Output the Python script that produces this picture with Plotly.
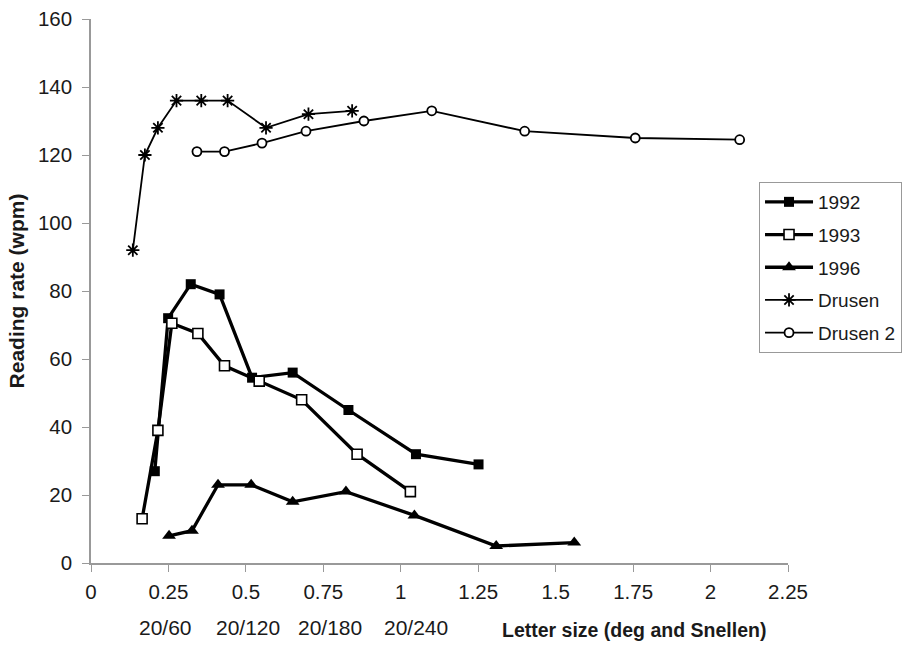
import plotly.graph_objects as go

# ---- data ----
x_1992 = [0.206, 0.249, 0.322, 0.415, 0.52, 0.651, 0.831, 1.049, 1.251]
y_1992 = [27, 72, 82, 79, 54.5, 56, 45, 32, 29]

x_1993 = [0.165, 0.216, 0.261, 0.345, 0.431, 0.543, 0.68, 0.859, 1.031]
y_1993 = [13, 39, 70.5, 67.5, 58, 53.5, 48, 32, 21]

x_1996 = [0.252, 0.326, 0.41, 0.517, 0.651, 0.823, 1.044, 1.308, 1.56]
y_1996 = [8, 9.5, 23, 23, 18, 21, 14, 5, 6]

x_drusen = [0.135, 0.174, 0.216, 0.276, 0.356, 0.441, 0.565, 0.702, 0.843]
y_drusen = [92, 120, 128, 136, 136, 136, 128, 132, 133]

x_drusen2 = [0.342, 0.431, 0.552, 0.694, 0.881, 1.10, 1.40, 1.757, 2.094]
y_drusen2 = [121, 121, 123.5, 127, 130, 133, 127, 125, 124.5]

x_tickvals = [0, 0.25, 0.5, 0.75, 1, 1.25, 1.5, 1.75, 2, 2.25]
x_ticktext = ["0", "0.25", "0.5", "0.75", "1", "1.25", "1.5", "1.75", "2", "2.25"]
y_tickvals = [0, 20, 40, 60, 80, 100, 120, 140, 160]

snellen_pos = [0.241, 0.507, 0.773, 1.05]
snellen_labels = ["20/60", "20/120", "20/180", "20/240"]

FONT = "Liberation Sans, Arial, sans-serif"
TXT = "#1a1a1a"

fig = go.Figure()
fig.add_trace(go.Scatter(x=x_1992, y=y_1992, name="1992", mode="lines+markers",
                         legendgroup="a",
                         line=dict(color="black", width=3.3),
                         marker=dict(symbol="square", size=10, color="black")))
fig.add_trace(go.Scatter(x=x_1993, y=y_1993, name="1993", mode="lines+markers",
                         legendgroup="b",
                         line=dict(color="black", width=3.3),
                         marker=dict(symbol="square", size=10, color="white",
                                     line=dict(color="black", width=1.6))))
fig.add_trace(go.Scatter(x=x_1996, y=y_1996, name="1996", mode="lines+markers",
                         legendgroup="c",
                         line=dict(color="black", width=3.3),
                         marker=dict(symbol="triangle-up", size=12, color="black")))
fig.add_trace(go.Scatter(x=x_drusen, y=y_drusen, name="Drusen", mode="lines+markers",
                         legendgroup="d",
                         line=dict(color="black", width=1.8),
                         marker=dict(symbol="asterisk-open", size=11,
                                     line=dict(color="black", width=1.8))))
fig.add_trace(go.Scatter(x=x_drusen2, y=y_drusen2, name="Drusen 2", mode="lines+markers",
                         legendgroup="e",
                         line=dict(color="black", width=1.8),
                         marker=dict(symbol="circle", size=9, color="white",
                                     line=dict(color="black", width=1.8))))

L, R, T, B = 90.5, 115, 19, 83
W, H = 903, 646
pw, ph = W - L - R, H - T - B


def px_to_paper_y(py):
    return (H - B - py) / ph


def px_to_paper_x(px):
    return (px - L) / pw


for xp, lab in zip(snellen_pos, snellen_labels):
    fig.add_annotation(x=xp, y=px_to_paper_y(627), xref="x", yref="paper", text=lab,
                       showarrow=False, xanchor="center", yanchor="middle",
                       font=dict(family=FONT, size=21, color=TXT))
fig.add_annotation(x=px_to_paper_x(634), y=px_to_paper_y(630), xref="paper", yref="paper",
                   text="<b>Letter size (deg and Snellen)</b>",
                   showarrow=False, xanchor="center", yanchor="middle",
                   font=dict(family=FONT, size=19.5, color=TXT))

fig.update_layout(
    width=W, height=H,
    margin=dict(l=L, r=R, t=T, b=B, autoexpand=False),
    paper_bgcolor="white", plot_bgcolor="white",
    font=dict(family=FONT, size=20, color=TXT),
    showlegend=True,
    legend=dict(x=px_to_paper_x(759), y=px_to_paper_y(182), xanchor="left", yanchor="top",
                bordercolor="#999", borderwidth=1, bgcolor="white",
                font=dict(family=FONT, size=19, color=TXT),
                itemwidth=48, tracegroupgap=5),
    xaxis=dict(range=[0, 2.25], tickvals=x_tickvals, ticktext=x_ticktext,
               showgrid=False, zeroline=False, showline=True, linecolor="#999",
               linewidth=1.5, ticks="outside", ticklen=7, tickcolor="#999",
               ticklabelstandoff=3,
               tickfont=dict(size=20.5, color=TXT)),
    yaxis=dict(range=[0, 160], tickvals=y_tickvals,
               showgrid=False, zeroline=False, showline=True, linecolor="#999",
               linewidth=1.5, ticks="outside", ticklen=7, tickcolor="#999",
               ticklabelstandoff=6,
               tickfont=dict(size=20.5, color=TXT),
               title=dict(text="<b>Reading rate (wpm)</b>", standoff=8,
                          font=dict(family=FONT, size=21, color=TXT))),
)

fig.write_html("out.html")
